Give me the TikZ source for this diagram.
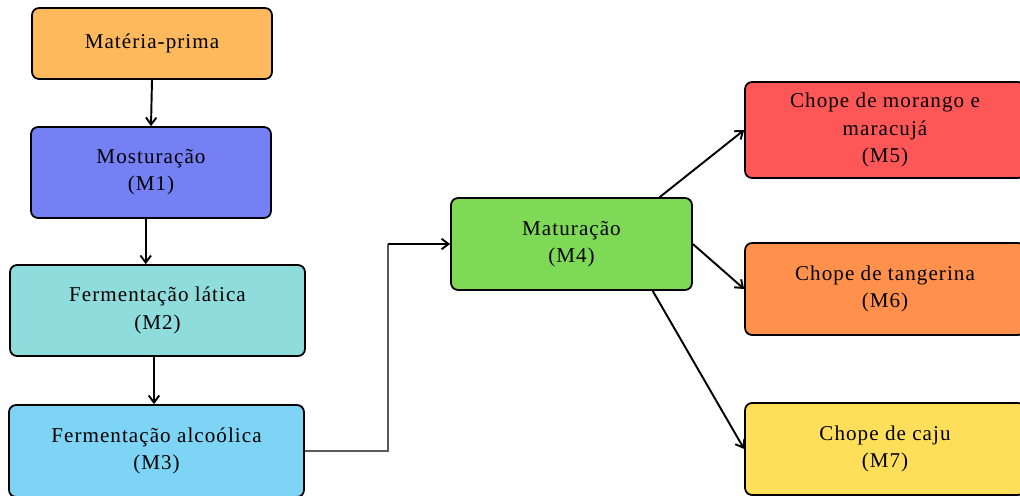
\documentclass[tikz,border=0pt]{standalone}
\usepackage{fontspec}
\setmainfont[LetterSpace=5]{Liberation Serif}
\usetikzlibrary{arrows.meta}
\definecolor{cmp}{HTML}{FDB95B}
\definecolor{cmi}{HTML}{7480F4}
\definecolor{cmii}{HTML}{8EDCDB}
\definecolor{cmiii}{HTML}{7DD4F5}
\definecolor{cmiv}{HTML}{7ED957}
\definecolor{cmv}{HTML}{FF5757}
\definecolor{cmvi}{HTML}{FF914D}
\definecolor{cmvii}{HTML}{FFDE59}
\tikzset{
  etapa/.style={draw=black, line width=1pt, rounded corners=4pt, align=center,
    font=\fontsize{12}{15.5}\selectfont, inner sep=2pt},
  fluxo/.style={line width=1.1pt, -{Straight Barb[length=4pt,width=6pt]}}
}
\begin{document}
\begin{tikzpicture}[x=0.02cm, y=-0.02cm]
    \useasboundingbox (0,0) rectangle (1020,495);
    \clip (0,0) rectangle (1020,495);
    \node[etapa, fill=cmp, minimum width=4.8cm, minimum height=1.42cm] (mp) at (152,43.5) {Matéria-prima};
    \node[etapa, fill=cmi, minimum width=4.8cm, minimum height=1.82cm] (m1) at (151,172.5) {Mosturação\\(M1)};
    \node[etapa, fill=cmii, minimum width=5.9cm, minimum height=1.82cm] (m2) at (157.5,310.5) {Fermentação lática\\(M2)};
    \node[etapa, fill=cmiii, minimum width=5.9cm, minimum height=1.84cm] (m3) at (156.5,451) {Fermentação alcoólica\\(M3)};
    \node[etapa, fill=cmiv, minimum width=4.82cm, minimum height=1.84cm] (m4) at (571.5,244) {Maturação\\(M4)};
    \node[etapa, fill=cmv, minimum width=5.6cm, minimum height=1.92cm] (m5) at (885,130) {Chope de morango e\\maracujá\\(M5)};
    \node[etapa, fill=cmvi, minimum width=5.6cm, minimum height=1.84cm] (m6) at (885,289) {Chope de tangerina\\(M6)};
    \node[etapa, fill=cmvii, minimum width=5.6cm, minimum height=1.84cm] (m7) at (885,449) {Chope de caju\\(M7)};
    \coordinate (desvio) at (388,244);
    \draw[fluxo] (mp.south) -- (m1.north);
    \draw[fluxo] ([xshift=-3pt]m1.south) -- ([xshift=-3pt]m1.south |- m2.north);
    \draw[fluxo] ([xshift=-2pt]m2.south) -- ([xshift=-2pt]m2.south |- m3.north);
    \draw[line width=1.1pt, draw=gray!70!black] (m3.east) -| (desvio);
    \draw[fluxo] (desvio) -- (m4.west);
    \draw[fluxo] (m4.28) -- (m5.west);
    \draw[fluxo] (m4.east) -- (m6.west);
    \draw[fluxo] (m4.-30) -- (m7.west);
\end{tikzpicture}
\end{document}
